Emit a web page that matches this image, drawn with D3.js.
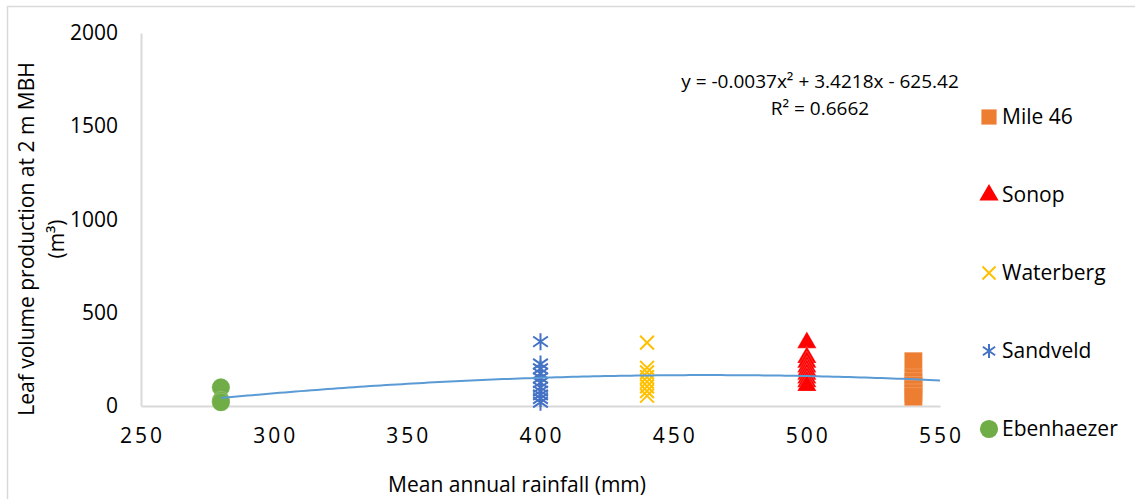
<!DOCTYPE html>
<html>
<head>
<meta charset="utf-8">
<script src="https://cdn.jsdelivr.net/npm/d3@7"></script>
<style>
  body { margin: 0; background: #fff; }
  text { font-family: "Open Sans", sans-serif; fill: #000; }
</style>
</head>
<body>
<div id="chart"></div>
<script>
// data
const rainfall = {
  Ebenhaezer: 280,
  Sandveld: 400,
  Waterberg: 440,
  Sonop: 500,
  "Mile 46": 540
};
const ebenhaezer = [100, 30, 20];
const sandveld = [345, 225, 200, 175, 150, 125, 100, 80, 60, 40, 20];
const waterberg = [340, 205, 180, 155, 130, 105, 80, 55];
const sonop = [340, 260, 235, 210, 190, 170, 150, 130, 110];
const mile46 = [240, 150, 130, 110, 90, 70, 50];

const legendOrder = ["Mile 46", "Sonop", "Waterberg", "Sandveld", "Ebenhaezer"];
const xTicks = [250, 300, 350, 400, 450, 500, 550];
const yTicks = [0, 500, 1000, 1500, 2000];

// polynomial trendline y = a x^2 + b x + c
const trendCoef = [-0.0037, 3.4218, -625.42];
const trendRange = [280, 550];

const width = 1135;
const height = 499;
const margin = { top: 33, right: 195, bottom: 93, left: 141 };

const svg = d3
  .select("#chart")
  .append("svg")
  .attr("width", width)
  .attr("height", height);

// chart area border (cut at right/bottom in the original)
svg.append("path")
  .attr("d", `M7.5,${height}V6.5H${width}`)
  .attr("fill", "none")
  .attr("stroke", "#d9d9d9")
  .attr("stroke-width", 1.5);

const xScale = d3.scaleLinear()
  .domain([250, 550])
  .range([margin.left, width - margin.right]);

const yScale = d3.scaleLinear()
  .domain([0, 2000])
  .range([height - margin.bottom, margin.top]);

// axes
const xAxis = g =>
  g.attr("transform", `translate(0,${yScale(0)})`)
    .call(d3.axisBottom(xScale).tickValues(xTicks).tickSize(0).tickPadding(22))
    .call(g => g.select(".domain").attr("stroke", "#d9d9d9").attr("stroke-width", 2))
    .call(g => g.selectAll(".tick text")
      .attr("font-size", 21)
      .attr("font-family", "Open Sans")
      .attr("letter-spacing", 3)
      .attr("dx", 1));

const yAxis = g =>
  g.attr("transform", `translate(${xScale(250)},0)`)
    .call(d3.axisLeft(yScale).tickValues(yTicks).tickFormat(d3.format("d")).tickSize(0).tickPadding(23))
    .call(g => g.select(".domain").attr("stroke", "#d9d9d9").attr("stroke-width", 2))
    .call(g => g.selectAll(".tick text")
      .attr("font-size", 21)
      .attr("font-family", "Open Sans"));

svg.append("g").call(xAxis);
svg.append("g").call(yAxis);

// marker shapes
const asterisk = {
  draw(ctx, size) {
    const r = Math.sqrt(size) / 2;
    const d = r * 0.866;
    ctx.moveTo(0, -r); ctx.lineTo(0, r);
    ctx.moveTo(-d, -r * 0.6); ctx.lineTo(d, r * 0.6);
    ctx.moveTo(-d, r * 0.6); ctx.lineTo(d, -r * 0.6);
  }
};
const cross = {
  draw(ctx, size) {
    const r = Math.sqrt(size) / 2;
    ctx.moveTo(-r, -r); ctx.lineTo(r, r);
    ctx.moveTo(-r, r); ctx.lineTo(r, -r);
  }
};

const series = [
  { name: "Ebenhaezer", values: ebenhaezer, color: "#70ad47", type: d3.symbolCircle, size: 260, fill: true },
  { name: "Sandveld", values: sandveld, color: "#4472c4", type: asterisk, size: 290, fill: false },
  { name: "Waterberg", values: waterberg, color: "#ffc000", type: cross, size: 190, fill: false },
  { name: "Sonop", values: sonop, color: "#ff0000", type: d3.symbolTriangle, size: 160, fill: true },
  { name: "Mile 46", values: mile46, color: "#ed7d31", type: d3.symbolSquare, size: 324, fill: true }
];

const marks = svg.append("g");
series.forEach(s => {
  marks.append("g")
    .selectAll("path")
    .data(s.values)
    .join("path")
    .attr("transform", d => `translate(${xScale(rainfall[s.name])},${yScale(d)})`)
    .attr("d", d3.symbol(s.type, s.size))
    .attr("fill", s.fill ? s.color : "none")
    .attr("stroke", s.fill ? "#fff" : s.color)
    .attr("stroke-opacity", s.fill ? 0.25 : 1)
    .attr("stroke-width", s.fill ? 0.75 : 2);
});

// trendline
const trendX = d3.range(trendRange[0], trendRange[1] + 1, 2);
const trend = x => trendCoef[0] * x * x + trendCoef[1] * x + trendCoef[2];
svg.append("path")
  .datum(trendX)
  .attr("d", d3.line().x(d => xScale(d)).y(d => yScale(trend(d))))
  .attr("fill", "none")
  .attr("stroke", "#5b9bd5")
  .attr("stroke-width", 2);

// equation label
svg.append("text")
  .attr("x", 820)
  .attr("y", 88)
  .attr("text-anchor", "middle")
  .attr("font-size", 19)
  .text("y = -0.0037x² + 3.4218x - 625.42");
svg.append("text")
  .attr("x", 820)
  .attr("y", 115)
  .attr("text-anchor", "middle")
  .attr("font-size", 19)
  .text("R² = 0.6662");

// legend
const legendSize = { "Mile 46": 230, Sonop: 160, Waterberg: 170, Sandveld: 200, Ebenhaezer: 260 };
const legend = svg.append("g");
legendOrder.forEach((name, i) => {
  const s = series.find(d => d.name === name);
  const y = 117 + i * 78;
  legend.append("path")
    .attr("transform", `translate(989,${y})`)
    .attr("d", d3.symbol(s.type, legendSize[name]))
    .attr("fill", s.fill ? s.color : "none")
    .attr("stroke", s.fill ? "none" : s.color)
    .attr("stroke-width", 2);
  legend.append("text")
    .attr("x", 1002)
    .attr("y", y)
    .attr("dy", "0.35em")
    .attr("font-size", 21)
    .text(name);
});

// axis titles
svg.append("text")
  .attr("x", 517)
  .attr("y", 492)
  .attr("text-anchor", "middle")
  .attr("font-size", 21)
  .text("Mean annual rainfall (mm)");

const yTitle = svg.append("text")
  .attr("transform", "translate(0,239) rotate(-90)")
  .attr("text-anchor", "middle")
  .attr("font-size", 21);
yTitle.append("tspan")
  .attr("x", 0)
  .attr("y", 34)
  .text("Leaf volume production at 2 m MBH");
yTitle.append("tspan")
  .attr("x", 0)
  .attr("y", 64)
  .text("(m³)");
</script>
</body>
</html>
